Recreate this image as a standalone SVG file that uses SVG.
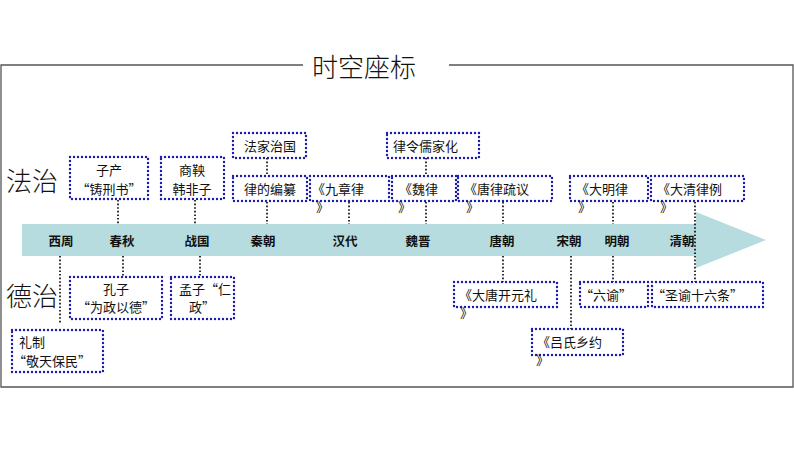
<svg xmlns="http://www.w3.org/2000/svg" width="794" height="458" viewBox="0 0 794 458" xml:lang="zh-CN">
<style>
text{font-family:"Noto Sans CJK SC","Noto Sans",sans-serif;fill:#111}
.box{fill:#fff;stroke:#1c1ca8;stroke-width:2.4;stroke-dasharray:0 4;stroke-linecap:round}
.t{font-size:13px;font-feature-settings:"fwid"}
.era{font-size:12.5px;font-weight:bold;text-anchor:middle}
.c{text-anchor:middle}
.big{font-size:26px;font-weight:300}
.conn{stroke:#000;stroke-width:1.6;stroke-dasharray:1.6 2;fill:none}
.frame{stroke:#555;stroke-width:1.3;fill:none}
</style>
<rect width="794" height="458" fill="#fff"/>
<g id="frame">
<path class="frame" d="M303,65 H1 V387 H793 V65 H449"/>
<text class="big" x="312" y="77">时空座标</text>
</g>
<g id="timeline">
<path d="M22,224 H696 V212 L766,240 L696,268 V256 H22 Z" fill="#b6dce0"/>
<text class="era" x="61" y="246">西周</text>
<text class="era" x="122" y="246">春秋</text>
<text class="era" x="197" y="246">战国</text>
<text class="era" x="263" y="246">秦朝</text>
<text class="era" x="345" y="246">汉代</text>
<text class="era" x="418" y="246">魏晋</text>
<text class="era" x="502" y="246">唐朝</text>
<text class="era" x="569" y="246">宋朝</text>
<text class="era" x="617" y="246">明朝</text>
<text class="era" x="682" y="246">清朝</text>
</g>
<g id="labels">
<text class="big" x="6" y="191">法治</text>
<text class="big" x="6" y="306">德治</text>
</g>
<g id="connectors">
<line class="conn" x1="118" y1="200" x2="118" y2="224"/>
<line class="conn" x1="195" y1="200" x2="195" y2="224"/>
<line class="conn" x1="267" y1="158" x2="267" y2="176"/>
<line class="conn" x1="267" y1="202" x2="267" y2="224"/>
<line class="conn" x1="349" y1="202" x2="349" y2="224"/>
<line class="conn" x1="426" y1="158" x2="426" y2="176"/>
<line class="conn" x1="426" y1="202" x2="426" y2="224"/>
<line class="conn" x1="503" y1="202" x2="503" y2="224"/>
<line class="conn" x1="613" y1="202" x2="613" y2="224"/>
<line class="conn" x1="695" y1="202" x2="695" y2="282"/>
<line class="conn" x1="60" y1="256" x2="60" y2="324"/>
<line class="conn" x1="123" y1="256" x2="123" y2="277"/>
<line class="conn" x1="200" y1="256" x2="200" y2="277"/>
<line class="conn" x1="503" y1="256" x2="503" y2="282"/>
<line class="conn" x1="571" y1="256" x2="571" y2="329"/>
<line class="conn" x1="613" y1="256" x2="613" y2="282"/>
</g>
<g id="n-zichan">
<rect class="box" x="70" y="157" width="78" height="42"/>
<text class="t c" x="109" y="175">子产</text>
<text class="t c" x="109" y="194">“铸刑书”</text>
</g>
<g id="n-shangyang">
<rect class="box" x="161" y="157" width="63" height="42"/>
<text class="t c" x="192" y="175">商鞅</text>
<text class="t c" x="192" y="194">韩非子</text>
</g>
<g id="n-fajia">
<rect class="box" x="233" y="133" width="73" height="25"/>
<text class="t c" x="270" y="151">法家治国</text>
</g>
<g id="n-lvde">
<rect class="box" x="233" y="176" width="74" height="25"/>
<text class="t c" x="270" y="194">律的编纂</text>
</g>
<g id="n-jiuzhang">
<rect class="box" x="310" y="176" width="79" height="25"/>
<text class="t" x="312" y="194">《九章律</text>
<text class="t" x="316" y="212">》</text>
</g>
<g id="n-lvling">
<rect class="box" x="387" y="133" width="92" height="25"/>
<text class="t" x="393" y="151">律令儒家化</text>
</g>
<g id="n-weilv">
<rect class="box" x="392" y="176" width="64" height="25"/>
<text class="t" x="399" y="194">《魏律</text>
<text class="t" x="398" y="212">》</text>
</g>
<g id="n-tanglv">
<rect class="box" x="458" y="176" width="94" height="25"/>
<text class="t" x="464" y="194">《唐律疏议</text>
<text class="t" x="466" y="212">》</text>
</g>
<g id="n-daming">
<rect class="box" x="570" y="176" width="78" height="25"/>
<text class="t" x="576" y="194">《大明律</text>
<text class="t" x="578" y="212">》</text>
</g>
<g id="n-daqing">
<rect class="box" x="651" y="176" width="93" height="25"/>
<text class="t" x="657" y="194">《大清律例</text>
<text class="t" x="660" y="212">》</text>
</g>
<g id="n-lizhi">
<rect class="box" x="12" y="330" width="91" height="42"/>
<text class="t" x="19" y="347">礼制</text>
<text class="t" x="13" y="366">“敬天保民”</text>
</g>
<g id="n-kongzi">
<rect class="box" x="70" y="277" width="92" height="42"/>
<text class="t c" x="116" y="294">孔子</text>
<text class="t c" x="116" y="312">“为政以德”</text>
</g>
<g id="n-mengzi">
<rect class="box" x="171" y="277" width="63" height="42"/>
<text class="t" x="179" y="294">孟子“仁</text>
<text class="t c" x="202" y="312">政”</text>
</g>
<g id="n-datang">
<rect class="box" x="454" y="282" width="103" height="25"/>
<text class="t" x="459" y="300">《大唐开元礼</text>
<text class="t" x="460" y="318">》</text>
</g>
<g id="n-lvshi">
<rect class="box" x="532" y="329" width="91" height="26"/>
<text class="t" x="537" y="347">《吕氏乡约</text>
<text class="t" x="536" y="365">》</text>
</g>
<g id="n-liuyu">
<rect class="box" x="580" y="282" width="68" height="25"/>
<text class="t" x="580" y="300">“六谕”</text>
</g>
<g id="n-shengyu">
<rect class="box" x="652" y="282" width="111" height="25"/>
<text class="t" x="652" y="300">“圣谕十六条”</text>
</g>
</svg>
